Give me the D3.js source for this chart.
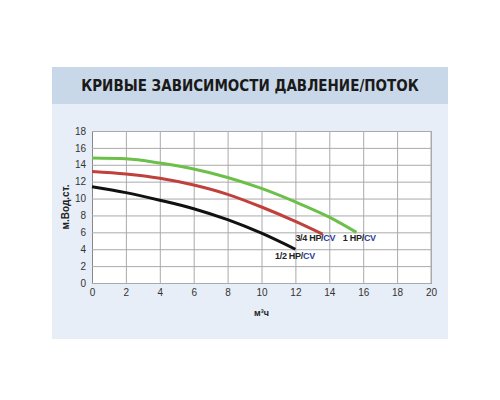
<!doctype html>
<html lang="ru">
<head>
<meta charset="utf-8">
<script src="https://d3js.org/d3.v7.min.js"></script>
<style>body{margin:0;background:#fff}</style>
</head>
<body>
<div id="chart"></div>
<script>
const xTicks = [0, 2, 4, 6, 8, 10, 12, 14, 16, 18, 20];
const yTicks = [0, 2, 4, 6, 8, 10, 12, 14, 16, 18];
const flow1hp = [0, 2, 4, 6, 8, 10, 12, 14, 15.6];
const head1hp = [14.8, 14.7, 14.2, 13.5, 12.5, 11.2, 9.6, 7.8, 6];
const flow34hp = [0, 2, 4, 6, 8, 10, 12, 13.6];
const head34hp = [13.2, 12.9, 12.4, 11.6, 10.5, 9, 7.3, 5.8];
const flow12hp = [0, 2, 4, 6, 8, 10, 12];
const head12hp = [11.4, 10.7, 9.8, 8.8, 7.5, 5.9, 4];

const series = [
  {name: "1 HP", color: "#6cc04a", xs: flow1hp, ys: head1hp, lx: 14.8, ly: 5.0},
  {name: "3/4 HP", color: "#c0403c", xs: flow34hp, ys: head34hp, lx: 12.0, ly: 5.0},
  {name: "1/2 HP", color: "#111", xs: flow12hp, ys: head12hp, lx: 10.8, ly: 2.9}
];

const width = 500, height = 400;
const svg = d3.select("#chart").append("svg")
    .attr("width", width).attr("height", height)
    .attr("font-family", "'Liberation Sans', sans-serif");

// panel background
svg.append("rect").attr("x", 52).attr("y", 67).attr("width", 396).attr("height", 272).attr("fill", "#e8eef7");
svg.append("rect").attr("x", 52).attr("y", 67).attr("width", 396).attr("height", 37).attr("fill", "#c9d8e8");
svg.append("text").attr("x", 250).attr("y", 91).attr("text-anchor", "middle")
    .attr("font-size", 15).attr("font-weight", "bold").attr("fill", "#1a1a1a")
    .attr("font-family", "'DejaVu Sans Condensed', sans-serif")
    .text("КРИВЫЕ ЗАВИСИМОСТИ ДАВЛЕНИЕ/ПОТОК");

const x = d3.scaleLinear([0, 20], [92, 431]);
const y = d3.scaleLinear([0, 18], [283, 131]);

svg.append("rect").attr("x", x(0)).attr("y", y(18)).attr("width", x(20) - x(0)).attr("height", y(0) - y(18)).attr("fill", "#fff");

svg.append("g").attr("transform", `translate(0,${y(0)})`)
    .call(d3.axisBottom(x).tickValues(xTicks).tickSize(-(y(0) - y(18))).tickPadding(6))
    .call(g => g.select(".domain").attr("stroke", "#888"))
    .call(g => g.selectAll(".tick line").attr("stroke", "#aaa"))
    .call(g => g.selectAll(".tick text").attr("font-size", 10).attr("fill", "#333"));
svg.append("g").attr("transform", `translate(${x(0)},0)`)
    .call(d3.axisLeft(y).tickValues(yTicks).tickSize(-(x(20) - x(0))).tickPadding(6))
    .call(g => g.select(".domain").attr("stroke", "#888"))
    .call(g => g.selectAll(".tick line").attr("stroke", "#aaa"))
    .call(g => g.selectAll(".tick text").attr("font-size", 10).attr("fill", "#333"));
svg.append("line").attr("x1", x(20)).attr("x2", x(20)).attr("y1", y(0)).attr("y2", y(18)).attr("stroke", "#aaa");

svg.append("text").attr("transform", `translate(69,${(y(0) + y(18)) / 2}) rotate(-90)`)
    .attr("text-anchor", "middle").attr("font-size", 10).attr("font-weight", "bold").attr("fill", "#222")
    .text("м.Вод.ст.");
svg.append("text").attr("x", x(10)).attr("y", 316).attr("text-anchor", "middle")
    .attr("font-size", 9).attr("font-weight", "bold").attr("fill", "#222").text("м³ч");

const line = d3.line().x(d => x(d[0])).y(d => y(d[1])).curve(d3.curveMonotoneX);
series.forEach(s => {
  svg.append("path").datum(s.xs.map((v, i) => [v, s.ys[i]]))
      .attr("d", line).attr("fill", "none").attr("stroke", s.color).attr("stroke-width", 3);
  const t = svg.append("text").attr("x", x(s.lx)).attr("y", y(s.ly))
      .attr("font-size", 9).attr("font-weight", "bold").attr("fill", "#222")
      .attr("letter-spacing", -0.3);
  t.append("tspan").text(s.name + "/");
  t.append("tspan").attr("fill", "#2e3f9a").text("CV");
});
</script>
</body>
</html>
